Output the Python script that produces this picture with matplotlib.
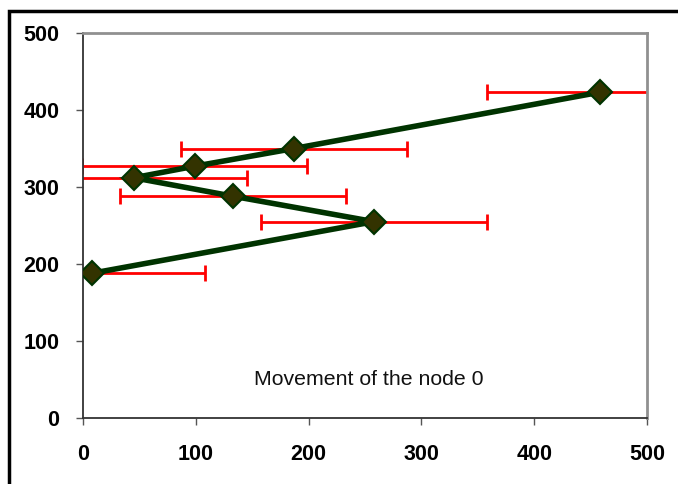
import matplotlib
matplotlib.use("Agg")
import matplotlib.pyplot as plt
from matplotlib.patches import Rectangle

x_vals = [8, 258, 133, 45, 99, 187, 458]
y_vals = [188, 255, 288, 312, 327, 350, 423]
x_err = [100, 100, 100, 100, 100, 100, 100]
ticks = [0, 100, 200, 300, 400, 500]
annotation = "Movement of the node 0"

plt.rcParams['font.family'] = ['Liberation Sans', 'DejaVu Sans']

fig = plt.figure(figsize=(6.78, 4.84), dpi=100)
fig.patch.set_facecolor('white')
# outer chart border (right/bottom beyond image)
fig.patches.append(Rectangle((9/678, -0.05), 1.0, 1 - 11/484 + 0.05, transform=fig.transFigure,
                             fill=False, edgecolor='black', linewidth=2.5, zorder=0))

ax = fig.add_axes([83/678, (484-418)/484, (647-83)/678, (418-33)/484])
ax.errorbar(x_vals, y_vals, xerr=x_err, fmt='none', ecolor='#ff0000', elinewidth=2,
            capsize=5.5, capthick=2, zorder=2)
ax.plot(x_vals, y_vals, color='#003300', linewidth=4, zorder=3, solid_joinstyle='miter')
ax.plot(x_vals, y_vals, linestyle='none', marker='D', markersize=12, markerfacecolor='#333300',
        markeredgecolor='#003300', markeredgewidth=1.5, zorder=4)

ax.set_xlim(0, 500)
ax.set_ylim(0, 500)
ax.set_xticks(ticks)
ax.set_yticks(ticks)
ax.set_xticklabels([str(t) for t in ticks], fontsize=15.5, fontweight='bold')
ax.set_yticklabels([str(t) for t in ticks], fontsize=15.5, fontweight='bold')
ax.tick_params(direction='out', length=5, width=1, color='#555555')
ax.tick_params(axis='x', pad=14)
ax.tick_params(axis='y', pad=12)
for s in ['left', 'bottom']:
    ax.spines[s].set_color('#333333')
    ax.spines[s].set_linewidth(1.3)
for s in ['top', 'right']:
    ax.spines[s].set_color('#909090')
    ax.spines[s].set_linewidth(2)

ax.text(0.304, 0.1, annotation, transform=ax.transAxes, fontsize=15.3, color='#111111',
        ha='left', va='center')

fig.savefig('out.png', dpi=100)
